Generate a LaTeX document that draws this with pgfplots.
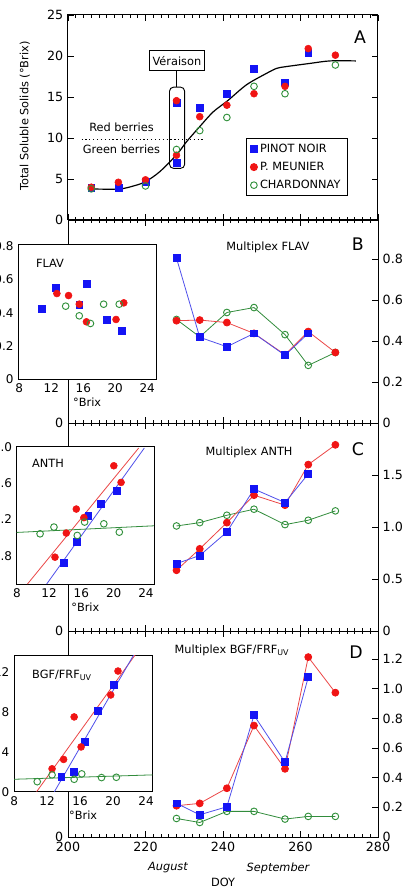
\documentclass[border=0pt]{standalone}
\usepackage{pgfplots}
\pgfplotsset{compat=1.18}
\usepackage{fontspec}
\setmainfont{DejaVu Sans}
\definecolor{mblue}{RGB}{20,20,245}
\definecolor{mred}{RGB}{240,20,20}
\definecolor{mgreen}{RGB}{50,145,60}
\definecolor{lblue}{RGB}{80,80,235}
\definecolor{lred}{RGB}{235,70,70}
\definecolor{lgreen}{RGB}{50,140,60}
\newcommand{\tfont}{\fontsize{9.5}{11}\selectfont}
\newcommand{\lfont}{\fontsize{8.5}{10}\selectfont}
\newcommand{\bfontA}{\fontsize{13}{15}\selectfont}
\pgfplotsset{
  every axis/.append style={scale only axis,
    /pgf/number format/assume math mode=true,
    tick label style={font=\tfont},
    label style={font=\lfont},
    axis line style={line width=0.75pt}},
  main/.style={width=232.5pt, xmin=200, xmax=280, xtick={200,220,...,280},
    minor x tick num=9, tick align=inside, major tick length=4.5pt, minor tick length=2.4pt,
    xticklabels={}, clip=false, tick style={line width=0.6pt, black}},
  rightax/.style={ytick pos=right, yticklabel pos=right},
  pn/.style={only marks, mark=square*, mark size=2.6pt, color=mblue},
  pm/.style={only marks, mark=*, mark size=2.6pt, color=mred},
  ch/.style={only marks, mark=o, mark size=2.5pt, color=mgreen, mark options={line width=0.7pt}},
  pnl/.style={color=lblue, line width=0.6pt, mark=square*, mark size=2.6pt, mark options={color=mblue}},
  pml/.style={color=lred, line width=0.6pt, mark=*, mark size=2.6pt, mark options={color=mred}},
  chl/.style={color=lgreen, line width=0.6pt, mark=o, mark size=2.5pt, mark options={color=mgreen, line width=0.7pt}},
  inset/.style={axis background/.style={fill=white}, major tick length=0pt,
    xtick={8,12,...,24}, tick label style={font=\fontsize{9}{10}\selectfont},
    xlabel={°Brix}, xlabel style={yshift=3pt, xshift=0pt}, clip=true},
}
\begin{document}
\begin{tikzpicture}
% ---------------- Panel A ----------------
\begin{axis}[main, at={(51pt,-165pt)}, anchor=south west, height=153.75pt,
  ymin=0, ymax=25, ytick={0,5,...,25},
  legend style={at={(0.574,0.4)}, anchor=north west, font=\lfont, draw=black,
    line width=0.75pt, inner xsep=3pt, inner ysep=2pt, row sep=1.8pt,
    /tikz/every even column/.append style={column sep=6pt}},
  legend cell align=left]
\addplot[pn] coordinates {(206,3.94) (213,3.9) (220,4.7) (228,14.3) (228,6.95) (234,13.7) (241,15.4) (248,18.4) (256,16.8) (262,20.4)};
\addlegendentry{PINOT NOIR}
\addplot[pm] coordinates {(206,4.0) (213,4.6) (220,4.9) (228,14.55) (228,7.9) (234,12.6) (241,14.0) (248,15.4) (256,16.3) (262,20.9) (269,20.1)};
\addlegendentry{P. MEUNIER}
\addplot[ch] coordinates {(206,3.8) (220,4.15) (228,8.6) (234,10.9) (241,12.5) (248,16.3) (256,15.4) (269,18.9)};
\addlegendentry{CHARDONNAY}
\addplot[black, line width=0.9pt, smooth, forget plot] coordinates {(206.3,3.78) (213.2,3.78) (216.9,4.15) (220.0,4.67) (223.7,5.9) (228.1,8.0) (230.6,9.55) (234.2,11.5) (237.5,13.2) (241.2,14.55) (246.1,16.5) (251.3,17.9) (253.9,18.5) (256.2,18.7) (262.5,19.1) (267.6,19.4) (274.3,19.4)};
\draw[dotted, line width=0.9pt] (axis cs:203.5,9.8) -- (axis cs:234.9,9.8);
\node[font=\lfont] at (axis cs:213.8,11.3) {Red berries};
\node[font=\lfont] at (axis cs:213.8,8.6) {Green berries};
\draw[rounded corners=3pt, line width=0.7pt] (axis cs:226.2,6.3) rectangle (axis cs:230.1,16.2);
\node[draw, line width=0.7pt, font=\lfont, minimum width=41pt, minimum height=15pt, inner sep=1pt] (v) at (axis cs:228.1,19.4) {Véraison};
\draw[line width=0.7pt] (v.south) -- (axis cs:228.1,16.2);
\node[font=\bfontA] at (rel axis cs:0.942,0.893) {A};
\node[font=\lfont, rotate=90] at (rel axis cs:-0.139,0.507) {Total Soluble Solids (°Brix)};
\end{axis}
% ---------------- Panel B ----------------
\begin{axis}[main, rightax, at={(51pt,-317.25pt)}, anchor=south west, height=152.25pt,
  ymin=0, ymax=0.99, ytick={0,0.2,0.4,0.6,0.8}, yticklabels={0,0.2,0.4,0.6,0.8}]
\addplot[chl] coordinates {(228,0.505) (234,0.42) (241,0.539) (248,0.563) (256,0.431) (262,0.281) (269,0.344)};
\addplot[pml] coordinates {(228,0.499) (234,0.502) (241,0.49) (248,0.437) (256,0.333) (262,0.446) (269,0.344)};
\addplot[pnl] coordinates {(228,0.804) (234,0.418) (241,0.372) (248,0.437) (256,0.33) (262,0.437)};
\node[font=\lfont] at (rel axis cs:0.645,0.867) {Multiplex FLAV};
\node[font=\bfontA] at (rel axis cs:0.935,0.882) {B};
\node[font=\tfont, anchor=east] at (rel axis cs:0,0) {0};
\end{axis}
% ---------------- Panel C ----------------
\begin{axis}[main, rightax, at={(51pt,-473.25pt)}, anchor=south west, height=156pt,
  ymin=0, ymax=2.0, ytick={0,0.5,1,1.5}, yticklabels={0,0.5,1.0,1.5}]
\addplot[chl] coordinates {(228,1.01) (234,1.042) (241,1.113) (248,1.171) (256,1.023) (262,1.065) (269,1.155)};
\addplot[pml] coordinates {(228,0.584) (234,0.79) (241,1.042) (248,1.306) (256,1.21) (262,1.6) (269,1.79)};
\addplot[pnl] coordinates {(228,0.648) (234,0.726) (241,0.952) (248,1.365) (256,1.235) (262,1.51)};
\node[font=\lfont] at (rel axis cs:0.584,0.86) {Multiplex ANTH};
\node[font=\bfontA] at (rel axis cs:0.935,0.875) {C};
\node[font=\tfont, anchor=east] at (rel axis cs:0,0) {0};
\end{axis}
% ---------------- Panel D ----------------
\begin{axis}[main, rightax, at={(51pt,-627.75pt)}, anchor=south west, height=154.5pt,
  ymin=0, ymax=1.39, ytick={0,0.2,...,1.2}, yticklabels={0,0.2,0.4,0.6,0.8,1.0,1.2},
  xticklabels={200,220,240,260,280}]
\addplot[chl] coordinates {(228,0.125) (234,0.098) (241,0.173) (248,0.173) (256,0.121) (262,0.139) (269,0.139)};
\addplot[pml] coordinates {(228,0.211) (234,0.227) (241,0.329) (248,0.752) (256,0.46) (262,1.214) (269,0.974)};
\addplot[pnl] coordinates {(228,0.227) (234,0.15) (241,0.204) (248,0.822) (256,0.505) (262,1.078)};
\node[font=\lfont] at (rel axis cs:0.529,0.908) {Multiplex BGF/FRF\textsubscript{UV}};
\node[font=\bfontA] at (rel axis cs:0.929,0.898) {D};
\node[font=\tfont, anchor=east] at (rel axis cs:0,0) {0};
\node[font=\lfont\itshape] at (axis cs:225.8,-0.209) {August};
\node[font=\lfont\itshape] at (axis cs:254.2,-0.209) {September};
\node[font=\lfont] at (axis cs:240,-0.304) {DOY};
\end{axis}
% ---------------- Inset B ----------------
\begin{axis}[inset, at={(13.7pt,-284.5pt)}, anchor=south west, width=103.3pt, height=101.25pt,
  xmin=7.87, xmax=25.1, ymin=0, ymax=0.812, ytick={0,0.2,0.4,0.6,0.8}, yticklabels={0,0.2,0.4,0.6,0.8}]
\addplot[pn] coordinates {(10.8,0.426) (12.57,0.55) (15.5,0.446) (16.46,0.572) (18.9,0.356) (20.86,0.29)};
\addplot[pm] coordinates {(12.7,0.516) (14.16,0.504) (15.5,0.452) (16.4,0.346) (20.1,0.36) (21.07,0.46)};
\addplot[ch] coordinates {(13.8,0.44) (15.5,0.382) (16.9,0.336) (18.55,0.452) (20.5,0.452)};
\node[font=\lfont] at (rel axis cs:0.23,0.86) {FLAV};
\end{axis}
% ---------------- Inset C ----------------
\begin{axis}[inset, at={(12.5pt,-438pt)}, anchor=south west, width=103pt, height=103pt,
  xmin=7.98, xmax=25, ymin=0.49, ymax=2.0, ytick={0.8,1.2,1.6,2.0}, yticklabels={0.8,1.2,1.6,2.0}]
\addplot[lred, line width=0.6pt] coordinates {(9.32,0.49) (23.1,1.985)};
\addplot[lblue, line width=0.6pt] coordinates {(11.7,0.49) (23.8,1.985)};
\addplot[lgreen, line width=0.6pt] coordinates {(7.98,1.057) (25.0,1.13)};
\addplot[pn] coordinates {(13.84,0.727) (15.4,0.95) (16.85,1.244) (18.45,1.369) (20.43,1.52)};
\addplot[pm] coordinates {(12.73,0.785) (14.13,1.05) (15.37,1.314) (16.31,1.22) (20.02,1.79) (20.92,1.607)};
\addplot[ch] coordinates {(10.88,1.042) (12.6,1.116) (15.49,1.024) (16.4,1.171) (18.78,1.152) (20.7,1.06)};
\node[font=\lfont] at (rel axis cs:0.228,0.88) {ANTH};
\end{axis}
% ---------------- Inset D ----------------
\begin{axis}[inset, at={(10.5pt,-593.8pt)}, anchor=south west, width=103.7pt, height=102.5pt,
  xmin=7.98, xmax=24.76, ymin=0, ymax=13.7, ytick={0,4,8,12}, yticklabels={0,4,8,12}]
\addplot[lred, line width=0.6pt] coordinates {(10.72,0) (22.8,13.85)};
\addplot[lblue, line width=0.6pt] coordinates {(12.88,0) (22.6,13.85)};
\addplot[lgreen, line width=0.6pt] coordinates {(7.98,1.25) (24.76,1.69)};
\addplot[pn] coordinates {(13.72,1.52) (15.28,2.03) (16.6,4.97) (18.2,8.1) (20.12,10.7)};
\addplot[pm] coordinates {(12.6,2.3) (14.0,3.24) (15.28,7.5) (16.12,4.49) (19.72,9.7) (20.6,12.1)};
\addplot[ch] coordinates {(10.8,1.01) (12.6,1.69) (15.28,1.25) (16.2,1.79) (18.6,1.42) (20.4,1.45)};
\node[font=\lfont] at (rel axis cs:0.347,0.854) {BGF/FRF\textsubscript{UV}};
\end{axis}
\pgfresetboundingbox
\useasboundingbox (0,0) rectangle (313.5pt,-665.25pt);
\end{tikzpicture}
\end{document}
